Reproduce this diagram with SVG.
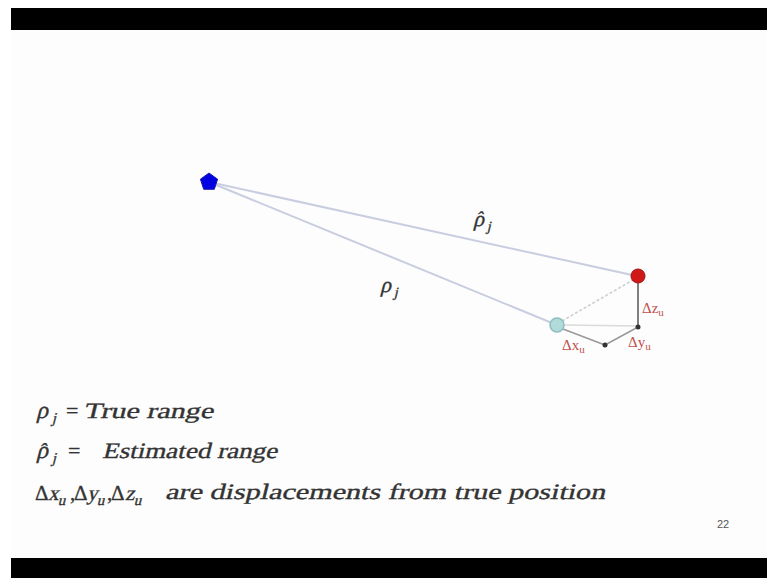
<svg xmlns="http://www.w3.org/2000/svg" width="767" height="578" viewBox="0 0 767 578">
<style>
.t{font-family:"Liberation Serif","Times New Roman",serif;fill:#333;stroke:#333;stroke-width:0.35}
.r{font-family:"Liberation Serif","Times New Roman",serif;fill:#c0504d;font-size:15px}
.ln{stroke:#c9cde0;stroke-width:2;fill:none}
</style>
<rect x="0" y="0" width="767" height="578" fill="#ffffff"/>
<rect x="11" y="30" width="756" height="528" fill="#fdfdfd"/>
<rect x="11" y="8" width="756" height="22" fill="#000"/>
<rect x="11" y="558" width="756" height="20" fill="#000"/>
<g id="connectors">
<line class="ln" x1="209" y1="182" x2="632" y2="275"/>
<line class="ln" x1="209" y1="182" x2="552" y2="323"/>
<line x1="564" y1="325" x2="638" y2="326" stroke="#dadada" stroke-width="1.5"/>
<line x1="562" y1="321" x2="633" y2="280" stroke="#d0d0d0" stroke-width="1.5" stroke-dasharray="3,2"/>
<line x1="563" y1="329" x2="605" y2="345" stroke="#9a9a9a" stroke-width="1.5"/>
<line x1="605" y1="345" x2="638" y2="327" stroke="#9a9a9a" stroke-width="1.5"/>
<line x1="638" y1="283" x2="638" y2="327" stroke="#555" stroke-width="1.5"/>
</g>
<g id="satellite"><polygon points="209,173 217.6,179.2 214.3,189.3 203.7,189.3 200.4,179.2" fill="#0000e0" stroke="#1a1ab0" stroke-width="1"/></g>
<g id="estimated"><circle cx="638" cy="276" r="7" fill="#d01818" stroke="#a01010" stroke-width="1"/></g>
<g id="true"><circle cx="557" cy="325" r="7" fill="#b2dada" stroke="#8ebfbf" stroke-width="1.5"/></g>
<g id="p1"><circle cx="638" cy="327" r="2.5" fill="#333"/></g>
<g id="p2"><circle cx="605" cy="345" r="2.5" fill="#333"/></g>
<g id="labels">
<g transform="translate(473,226) skewX(-14)">
<text class="t" x="0" y="0" font-size="22">ρ</text>
<text class="t" x="2" y="-2" font-size="18">ˆ</text>
<text class="t" x="15" y="5" font-size="14">j</text>
</g>
<g transform="translate(380,292) skewX(-14)">
<text class="t" x="0" y="0" font-size="22">ρ</text>
<text class="t" x="15" y="5" font-size="14">j</text>
</g>
<text class="r" x="642" y="313">Δz<tspan font-size="11" dy="3">u</tspan></text>
<text class="r" x="562" y="350">Δx<tspan font-size="11" dy="3">u</tspan></text>
<text class="r" x="628" y="347">Δy<tspan font-size="11" dy="3">u</tspan></text>
</g>
<g id="legend">
<g transform="translate(36,418) skewX(-14)">
<text class="t" x="0" y="0" font-size="24">ρ</text>
<text class="t" x="17" y="5" font-size="15">j</text>
</g>
<text class="t" x="66" y="418" font-size="22">=</text>
<g transform="translate(83,418) skewX(-14)"><text class="t" x="0" y="0" font-size="22" textLength="130" lengthAdjust="spacingAndGlyphs">True range</text></g>
<g transform="translate(36,458) skewX(-14)">
<text class="t" x="0" y="0" font-size="24">ρ</text>
<text class="t" x="2" y="-1" font-size="20">ˆ</text>
<text class="t" x="17" y="5" font-size="15">j</text>
</g>
<text class="t" x="68" y="458" font-size="22">=</text>
<g transform="translate(102,458) skewX(-14)"><text class="t" x="0" y="0" font-size="22" textLength="175" lengthAdjust="spacingAndGlyphs">Estimated range</text></g>
<text class="t" x="35" y="500" font-size="21">Δ</text>
<g transform="translate(48,500) skewX(-14)"><text class="t" x="0" y="0" font-size="21">x</text><text class="t" x="11" y="5" font-size="15">u</text></g>
<text class="t" x="70" y="500" font-size="21">,</text>
<text class="t" x="74" y="500" font-size="21">Δ</text>
<g transform="translate(87,500) skewX(-14)"><text class="t" x="0" y="0" font-size="21">y</text><text class="t" x="11" y="5" font-size="15">u</text></g>
<text class="t" x="107" y="500" font-size="21">,</text>
<text class="t" x="111" y="500" font-size="21">Δ</text>
<g transform="translate(125,500) skewX(-14)"><text class="t" x="0" y="0" font-size="21">z</text><text class="t" x="10" y="5" font-size="15">u</text></g>
<g transform="translate(165,499) skewX(-14)"><text class="t" x="0" y="0" font-size="22" textLength="440" lengthAdjust="spacingAndGlyphs">are displacements from true position</text></g>
<text x="717" y="528" font-family="Liberation Sans, Arial, sans-serif" font-size="11" fill="#555">22</text>
</g>
</svg>
